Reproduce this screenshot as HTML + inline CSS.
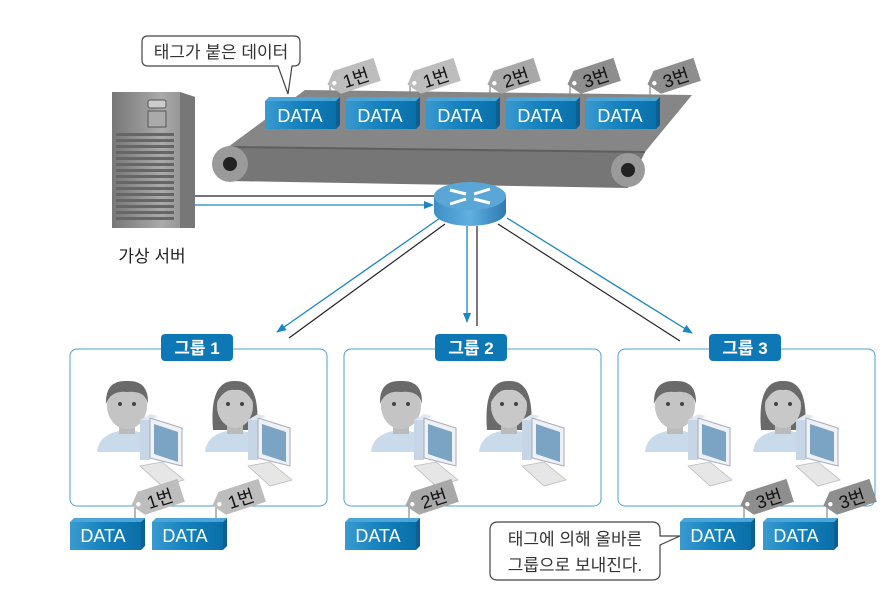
<!DOCTYPE html>
<html><head><meta charset="utf-8"><style>
html,body{margin:0;padding:0;background:#fff;}
svg{display:block;font-family:"Liberation Sans","Noto Sans CJK KR",sans-serif;}
</style></head><body>
<svg width="891" height="590" viewBox="0 0 891 590" xmlns="http://www.w3.org/2000/svg">
<defs>
<linearGradient id="db" x1="0" x2="1"><stop offset="0" stop-color="#3a9ad0"/><stop offset="0.5" stop-color="#1480bd"/><stop offset="1" stop-color="#0a6fa8"/></linearGradient>
<linearGradient id="srv" x1="0" x2="1"><stop offset="0" stop-color="#777"/><stop offset="0.6" stop-color="#aaa"/><stop offset="1" stop-color="#888"/></linearGradient>
<linearGradient id="rt" x1="0" x2="1"><stop offset="0" stop-color="#3f8fc4"/><stop offset="0.5" stop-color="#5fb0e0"/><stop offset="1" stop-color="#2e7ab0"/></linearGradient>
<marker id="ab" markerWidth="10" markerHeight="8" refX="9" refY="4" orient="auto" markerUnits="userSpaceOnUse"><path d="M0,0 L10,4 L0,8 Z" fill="#1a86c4"/></marker>
<g id="data">
<polygon points="0,4 4,0 75,0 71,4" fill="#4aa6d8"/>
<polygon points="71,4 75,0 75,28 71,32" fill="#0b5f93"/>
<rect x="0" y="4" width="71" height="28" fill="url(#db)"/>
</g>
<g id="person">
<path d="M-30,62 Q-28,42 0,40 Q28,42 30,62 Z" fill="#c9dbea"/>
<rect x="-8" y="28" width="16" height="16" fill="#bbb"/>
<ellipse cx="0" cy="16" rx="20" ry="23" fill="#c4c4c4"/>
<path d="M-21,14 Q-22,-10 0,-9 Q22,-10 21,14 Q18,0 0,2 Q-16,0 -21,14 Z" fill="#6a6a6a"/>
<circle cx="-7" cy="14" r="2" fill="#444"/><circle cx="7" cy="14" r="2" fill="#444"/>
</g>
<g id="personf">
<path d="M-30,62 Q-28,42 0,40 Q28,42 30,62 Z" fill="#c9dbea"/>
<path d="M-22,40 Q-26,-10 0,-9 Q26,-10 22,40 Z" fill="#6a6a6a"/>
<rect x="-8" y="28" width="16" height="16" fill="#bbb"/>
<ellipse cx="0" cy="16" rx="18" ry="22" fill="#c8c8c8"/>
<path d="M-18,12 Q-10,-2 0,0 Q10,-2 18,12 Q16,-6 0,-6 Q-16,-6 -18,12 Z" fill="#6a6a6a"/>
<circle cx="-7" cy="14" r="2" fill="#444"/><circle cx="7" cy="14" r="2" fill="#444"/>
</g>
<g id="pc">
<polygon points="0,6 10,0 18,2 8,8" fill="#e0e8f0"/>
<rect x="0" y="6" width="10" height="40" fill="#c6d6e6"/>
<polygon points="10,4 42,14 42,52 10,44" fill="#eef2f6" stroke="#aab" stroke-width="1"/>
<polygon points="14,10 38,18 38,48 14,40" fill="#7aa3c4"/>
<polygon points="0,52 22,48 44,66 22,72" fill="#e6e6e6" stroke="#bbb" stroke-width="0.8"/>
</g>
</defs>

<!-- callout top -->
<path d="M148,36 H294 Q300,36 300,42 V60 Q300,66 294,66 H292 L288,94 L278,66 H148 Q142,66 142,60 V42 Q142,36 148,36 Z" fill="#fff" stroke="#444" stroke-width="1.2"/>
<text x="221" y="58" font-size="17" text-anchor="middle" fill="#333">태그가 붙은 데이터</text>

<!-- server -->
<polygon points="112,92 180,92 195,97 195,228 112,228" fill="url(#srv)"/>
<polygon points="180,92 195,97 195,228 180,228" fill="#777"/>
<rect x="148" y="100" width="18" height="8" rx="2" fill="#ccc" stroke="#555"/>
<rect x="148" y="111" width="18" height="16" fill="#aaa" stroke="#555"/>
<g fill="#666">
<rect x="116" y="133" width="58" height="3"/><rect x="116" y="139" width="58" height="3"/><rect x="116" y="145" width="58" height="3"/><rect x="116" y="151" width="58" height="3"/><rect x="116" y="157" width="58" height="3"/><rect x="116" y="163" width="58" height="3"/><rect x="116" y="169" width="58" height="3"/><rect x="116" y="175" width="58" height="3"/><rect x="116" y="181" width="58" height="3"/><rect x="116" y="187" width="58" height="3"/><rect x="116" y="193" width="58" height="3"/><rect x="116" y="199" width="58" height="3"/><rect x="116" y="205" width="58" height="3"/><rect x="116" y="211" width="58" height="3"/><rect x="116" y="217" width="58" height="3"/>
</g>
<text x="152" y="262" font-size="17" text-anchor="middle" fill="#222">가상 서버</text>

<!-- conveyor -->
<polygon points="305,90 692,95 645,152 228,147" fill="#868686"/>
<polygon points="228,147 645,152 628,188 230,181" fill="#767676"/>
<line x1="228" y1="147" x2="645" y2="152" stroke="#5e5e5e" stroke-width="2"/>
<circle cx="230" cy="164" r="18" fill="#9a9a9a"/><circle cx="230" cy="164" r="7" fill="#222"/>
<circle cx="628" cy="170" r="17" fill="#9a9a9a"/><circle cx="628" cy="170" r="7" fill="#222"/>

<!-- lines server -> router -->
<line x1="195" y1="196" x2="440" y2="196" stroke="#222" stroke-width="1.2"/>
<line x1="195" y1="205" x2="433" y2="205" stroke="#1a86c4" stroke-width="1.3" marker-end="url(#ab)"/>

<!-- router lines -->
<line x1="440" y1="218" x2="277" y2="332" stroke="#1a86c4" stroke-width="1.3" marker-end="url(#ab)"/>
<line x1="445" y1="224" x2="289" y2="338" stroke="#222" stroke-width="1.2"/>
<line x1="467" y1="226" x2="467" y2="322" stroke="#1a86c4" stroke-width="1.3" marker-end="url(#ab)"/>
<line x1="477" y1="226" x2="477" y2="326" stroke="#222" stroke-width="1.2"/>
<line x1="507" y1="218" x2="692" y2="333" stroke="#1a86c4" stroke-width="1.3" marker-end="url(#ab)"/>
<line x1="498" y1="224" x2="680" y2="341" stroke="#222" stroke-width="1.2"/>

<!-- router -->
<path d="M434,196 V212 A36,14 0 0 0 506,212 V196 Z" fill="url(#rt)"/>
<ellipse cx="470" cy="196" rx="36" ry="14" fill="#5aa6d6"/>
<g stroke="#fff" stroke-width="3" fill="none"><line x1="450" y1="190" x2="466" y2="194"/><line x1="474" y1="199" x2="490" y2="203"/><line x1="490" y1="189" x2="474" y2="194"/><line x1="466" y1="199" x2="450" y2="204"/></g>

<!-- top data -->
<g font-size="18" fill="#fff" text-anchor="middle">
<use href="#data" x="265" y="97"/><text x="300" y="122">DATA</text>
<use href="#data" x="345" y="97"/><text x="380" y="122">DATA</text>
<use href="#data" x="425" y="97"/><text x="460" y="122">DATA</text>
<use href="#data" x="505" y="97"/><text x="540" y="122">DATA</text>
<use href="#data" x="585" y="97"/><text x="620" y="122">DATA</text>
</g>
<!-- hooks -->
<g stroke="#888" stroke-width="1.2" fill="none">
<path d="M330,84 V100"/><path d="M410,84 V100"/><path d="M490,84 V100"/><path d="M570,84 V100"/><path d="M650,84 V100"/>
<path d="M135,505 V520"/><path d="M216,505 V520"/><path d="M409,505 V520"/><path d="M744,505 V520"/><path d="M827,505 V520"/>
</g>
<g font-size="18" fill="#111">
<g transform="translate(324,74) rotate(-18)"><path d="M0,11 L10,0 H52 V24 H10 Z" fill="#bdbdbd"/><circle cx="7" cy="12" r="2.2" fill="#fff"/><text x="16" y="20">1번</text></g>
<g transform="translate(404,74) rotate(-18)"><path d="M0,11 L10,0 H52 V24 H10 Z" fill="#bdbdbd"/><circle cx="7" cy="12" r="2.2" fill="#fff"/><text x="16" y="20">1번</text></g>
<g transform="translate(484,74) rotate(-18)"><path d="M0,11 L10,0 H52 V24 H10 Z" fill="#a8a8a8"/><circle cx="7" cy="12" r="2.2" fill="#fff"/><text x="16" y="20">2번</text></g>
<g transform="translate(564,74) rotate(-18)"><path d="M0,11 L10,0 H52 V24 H10 Z" fill="#8e8e8e"/><circle cx="7" cy="12" r="2.2" fill="#fff"/><text x="16" y="20">3번</text></g>
<g transform="translate(644,74) rotate(-18)"><path d="M0,11 L10,0 H52 V24 H10 Z" fill="#8e8e8e"/><circle cx="7" cy="12" r="2.2" fill="#fff"/><text x="16" y="20">3번</text></g>
</g>

<!-- groups -->
<g fill="#fff" stroke="#4aa0d2" stroke-width="1">
<rect x="70" y="349" width="257" height="157" rx="7"/>
<rect x="344" y="349" width="257" height="157" rx="7"/>
<rect x="618" y="349" width="257" height="157" rx="7"/>
</g>
<g fill="#0e78b6">
<rect x="161" y="334" width="72" height="27" rx="4"/>
<rect x="435" y="334" width="72" height="27" rx="4"/>
<rect x="709" y="334" width="72" height="27" rx="4"/>
</g>
<g font-size="17" fill="#fff" text-anchor="middle" font-weight="bold">
<text x="197" y="354">그룹 1</text><text x="471" y="354">그룹 2</text><text x="745" y="354">그룹 3</text>
</g>

<use href="#person" x="127" y="390"/><use href="#pc" x="140" y="414"/>
<use href="#personf" x="235" y="390"/><use href="#pc" x="248" y="414"/>
<use href="#person" x="401" y="390"/><use href="#pc" x="414" y="414"/>
<use href="#personf" x="509" y="390"/><use href="#pc" x="522" y="414"/>
<use href="#person" x="675" y="390"/><use href="#pc" x="688" y="414"/>
<use href="#personf" x="783" y="390"/><use href="#pc" x="796" y="414"/>

<!-- bottom data -->
<g font-size="18" fill="#fff" text-anchor="middle">
<use href="#data" x="70" y="518"/><text x="103" y="542">DATA</text>
<use href="#data" x="152" y="518"/><text x="185" y="542">DATA</text>
<use href="#data" x="345" y="518"/><text x="378" y="542">DATA</text>
<use href="#data" x="680" y="518"/><text x="713" y="542">DATA</text>
<use href="#data" x="763" y="518"/><text x="796" y="542">DATA</text>
</g>
<g font-size="18" fill="#111">
<g transform="translate(128,495) rotate(-18)"><path d="M0,11 L10,0 H52 V24 H10 Z" fill="#bdbdbd"/><circle cx="7" cy="12" r="2.2" fill="#fff"/><text x="16" y="20">1번</text></g>
<g transform="translate(209,495) rotate(-18)"><path d="M0,11 L10,0 H52 V24 H10 Z" fill="#bdbdbd"/><circle cx="7" cy="12" r="2.2" fill="#fff"/><text x="16" y="20">1번</text></g>
<g transform="translate(402,495) rotate(-18)"><path d="M0,11 L10,0 H52 V24 H10 Z" fill="#a8a8a8"/><circle cx="7" cy="12" r="2.2" fill="#fff"/><text x="16" y="20">2번</text></g>
<g transform="translate(737,495) rotate(-18)"><path d="M0,11 L10,0 H52 V24 H10 Z" fill="#8e8e8e"/><circle cx="7" cy="12" r="2.2" fill="#fff"/><text x="16" y="20">3번</text></g>
<g transform="translate(820,495) rotate(-18)"><path d="M0,11 L10,0 H52 V24 H10 Z" fill="#8e8e8e"/><circle cx="7" cy="12" r="2.2" fill="#fff"/><text x="16" y="20">3번</text></g>
</g>

<!-- bottom callout -->
<path d="M498,522 H652 Q660,522 660,530 V536 L680,536 L660,545 V573 Q660,580 652,580 H498 Q490,580 490,573 V530 Q490,522 498,522 Z" fill="#fff" stroke="#444" stroke-width="1.2"/>
<text x="575" y="545" font-size="17" text-anchor="middle" fill="#333">태그에 의해 올바른</text>
<text x="575" y="571" font-size="17" text-anchor="middle" fill="#333">그룹으로 보내진다.</text>
</svg>
</body></html>
